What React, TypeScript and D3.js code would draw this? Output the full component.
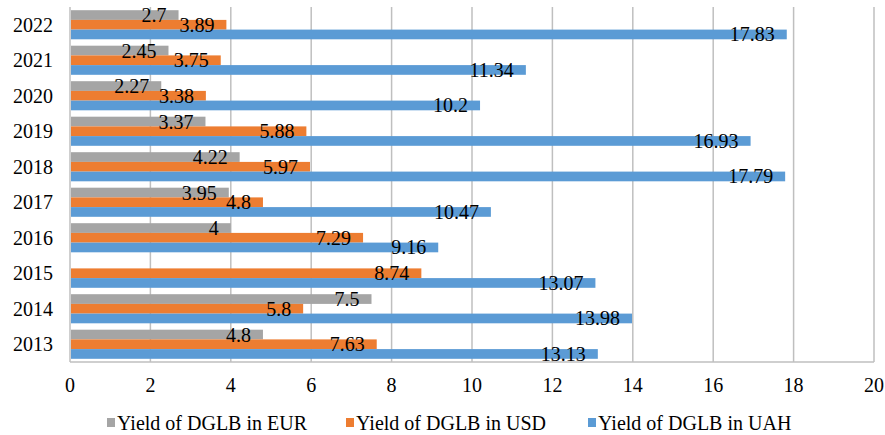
import React, { useRef, useEffect } from "react";
import * as d3 from "d3";

const years = ["2013", "2014", "2015", "2016", "2017", "2018", "2019", "2020", "2021", "2022"];
const eurValues: (number | null)[] = [4.8, 7.5, null, 4, 3.95, 4.22, 3.37, 2.27, 2.45, 2.7];
const usdValues: (number | null)[] = [7.63, 5.8, 8.74, 7.29, 4.8, 5.97, 5.88, 3.38, 3.75, 3.89];
const uahValues: (number | null)[] = [13.13, 13.98, 13.07, 9.16, 10.47, 17.79, 16.93, 10.2, 11.34, 17.83];
const seriesNames = ["Yield of DGLB in EUR", "Yield of DGLB in USD", "Yield of DGLB in UAH"];
const seriesColors = ["#a5a5a5", "#ed7d31", "#5b9bd5"];
const xTicks = [0, 2, 4, 6, 8, 10, 12, 14, 16, 18, 20];

const width = 885;
const height = 435;
const margin = { top: 7, right: 11, bottom: 73, left: 70 };
const font = "'Times New Roman', Tinos, 'Liberation Serif', 'DejaVu Serif', serif";

const App = () => {
  const chartRef = useRef<SVGSVGElement | null>(null);

  useEffect(() => {
    if (!chartRef.current) return;
    const svg = d3.select(chartRef.current);
    svg.selectAll("*").remove();

    const allSeries = [eurValues, usdValues, uahValues];

    const x = d3
      .scaleLinear()
      .domain([0, 20])
      .range([margin.left, width - margin.right]);

    // 2022 on top
    const y = d3
      .scaleBand<string>()
      .domain([...years].reverse())
      .range([margin.top, height - margin.bottom])
      .paddingInner(0.18)
      .paddingOuter(0.09);

    const inner = d3
      .scaleBand<number>()
      .domain([0, 1, 2])
      .range([0, y.bandwidth()]);

    // gridlines
    svg
      .append("g")
      .selectAll("line")
      .data(xTicks)
      .enter()
      .append("line")
      .attr("x1", (d) => x(d))
      .attr("x2", (d) => x(d))
      .attr("y1", margin.top)
      .attr("y2", height - margin.bottom)
      .attr("stroke", "#bfbfbf")
      .attr("stroke-width", 1.5);

    // bottom axis line
    svg
      .append("line")
      .attr("x1", x(0))
      .attr("x2", x(20))
      .attr("y1", height - margin.bottom)
      .attr("y2", height - margin.bottom)
      .attr("stroke", "#bfbfbf")
      .attr("stroke-width", 1.5);

    // bars
    allSeries.forEach((vals, si) => {
      const g = svg.append("g");
      years.forEach((yr, i) => {
        const v = vals[i];
        if (v == null) return;
        const by = (y(yr) ?? 0) + (inner(si) ?? 0);
        g.append("rect")
          .attr("x", x(0) + 1)
          .attr("y", by)
          .attr("width", x(v) - x(0) - 1)
          .attr("height", inner.bandwidth())
          .attr("fill", seriesColors[si]);
      });
    });

    const textG = svg.append("g").style("font-family", font).style("font-size", "20px");

    // data labels
    allSeries.forEach((vals, si) => {
      years.forEach((yr, i) => {
        const v = vals[i];
        if (v == null) return;
        const cy = (y(yr) ?? 0) + (inner(si) ?? 0) + inner.bandwidth() / 2;
        textG
          .append("text")
          .attr("x", x(v) - 12)
          .attr("y", cy + 7)
          .attr("text-anchor", "end")
          .attr("fill", "#000")
          .text(String(v));
      });
    });

    // category labels
    textG
      .append("g")
      .selectAll("text")
      .data(years)
      .enter()
      .append("text")
      .attr("x", 53)
      .attr("y", (d) => (y(d) ?? 0) + y.bandwidth() / 2 + 7)
      .attr("text-anchor", "end")
      .text((d) => d);

    // x tick labels
    textG
      .append("g")
      .selectAll("text")
      .data(xTicks)
      .enter()
      .append("text")
      .attr("x", (d) => x(d))
      .attr("y", 392)
      .attr("text-anchor", "middle")
      .text((d) => String(d));

    // legend
    const legendX = [107, 346, 588];
    seriesNames.forEach((name, si) => {
      const lg = textG.append("g").attr("transform", `translate(${legendX[si]}, 423)`);
      lg.append("rect")
        .attr("x", 0)
        .attr("y", -5)
        .attr("width", 8)
        .attr("height", 9)
        .attr("fill", seriesColors[si]);
      lg.append("text")
        .attr("x", 10)
        .attr("y", 7)
        .text(name);
    });
  }, []);

  return (
    <svg
      ref={chartRef}
      width={width}
      height={height}
      viewBox={`0 0 ${width} ${height}`}
      style={{ position: "absolute", left: 0, top: 0, background: "#fff" }}
    />
  );
};

export default App;
